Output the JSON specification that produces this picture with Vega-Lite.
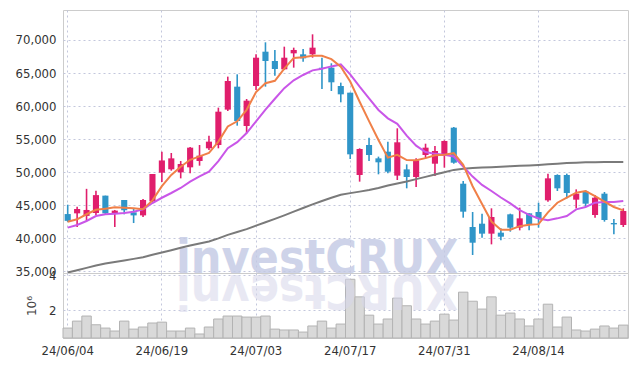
{
  "$schema": "https://vega.github.io/schema/vega-lite/v6.json",
  "background": "white",
  "padding": {"left": 12, "top": 9, "right": 8, "bottom": 5},
  "spacing": 0,
  "bounds": "flush",
  "data": {"values": [
    {"d":"24/06/04","o":43630,"h":45050,"l":42450,"c":42600,"v":970000,"m5":42470,"m20":41570,"m60":34770},
    {"d":"24/06/05","o":43740,"h":44750,"l":41680,"c":44400,"v":1370000,"m5":42830,"m20":41980,"m60":35130},
    {"d":"24/06/07","o":43350,"h":47450,"l":42580,"c":44250,"v":1660000,"m5":43600,"m20":42580,"m60":35480},
    {"d":"24/06/10","o":43790,"h":47170,"l":43480,"c":46500,"v":1160000,"m5":44270,"m20":43330,"m60":35830},
    {"d":"24/06/11","o":46420,"h":46420,"l":43590,"c":43740,"v":970000,"m5":44450,"m20":43590,"m60":36130},
    {"d":"24/06/12","o":43740,"h":44250,"l":41670,"c":44150,"v":800000,"m5":44650,"m20":43690,"m60":36370},
    {"d":"24/06/13","o":45760,"h":45760,"l":43590,"c":44190,"v":1370000,"m5":44600,"m20":43790,"m60":36600},
    {"d":"24/06/14","o":43890,"h":44400,"l":42270,"c":43430,"v":910000,"m5":44500,"m20":43990,"m60":36840},
    {"d":"24/06/17","o":43430,"h":45910,"l":43180,"c":45760,"v":1030000,"m5":44370,"m20":44350,"m60":37100},
    {"d":"24/06/18","o":45560,"h":49700,"l":45400,"c":49700,"v":1260000,"m5":45700,"m20":45300,"m60":37460},
    {"d":"24/06/19","o":49900,"h":53080,"l":48490,"c":51750,"v":1310000,"m5":47850,"m20":46100,"m60":37810},
    {"d":"24/06/20","o":50410,"h":52880,"l":50200,"c":52070,"v":800000,"m5":49550,"m20":46820,"m60":38160},
    {"d":"24/06/21","o":49950,"h":51670,"l":49040,"c":51210,"v":800000,"m5":50800,"m20":47580,"m60":38520},
    {"d":"24/06/24","o":50710,"h":53790,"l":49800,"c":53690,"v":970000,"m5":51850,"m20":48550,"m60":38860},
    {"d":"24/06/25","o":51670,"h":54090,"l":50960,"c":52480,"v":630000,"m5":52370,"m20":49330,"m60":39170},
    {"d":"24/06/26","o":53590,"h":55510,"l":53330,"c":54600,"v":1030000,"m5":52880,"m20":50050,"m60":39480},
    {"d":"24/06/27","o":54090,"h":59750,"l":53590,"c":59140,"v":1490000,"m5":54600,"m20":51650,"m60":39950},
    {"d":"24/06/28","o":59450,"h":64450,"l":59240,"c":63790,"v":1660000,"m5":56900,"m20":53600,"m60":40480},
    {"d":"24/07/01","o":62930,"h":64800,"l":57020,"c":57730,"v":1660000,"m5":57680,"m20":54520,"m60":40900},
    {"d":"24/07/02","o":56970,"h":61060,"l":55860,"c":60810,"v":1600000,"m5":59420,"m20":55900,"m60":41350},
    {"d":"24/07/03","o":63030,"h":67830,"l":62420,"c":67320,"v":1600000,"m5":62100,"m20":57670,"m60":41870},
    {"d":"24/07/04","o":68230,"h":69650,"l":62930,"c":66820,"v":1660000,"m5":63450,"m20":59440,"m60":42380},
    {"d":"24/07/05","o":66820,"h":68490,"l":64600,"c":65610,"v":910000,"m5":63820,"m20":61100,"m60":42900},
    {"d":"24/07/08","o":65560,"h":68990,"l":65450,"c":67320,"v":860000,"m5":65670,"m20":62700,"m60":43430},
    {"d":"24/07/09","o":67980,"h":68840,"l":65810,"c":68490,"v":860000,"m5":67280,"m20":63900,"m60":43990},
    {"d":"24/07/10","o":67830,"h":68640,"l":66720,"c":67220,"v":740000,"m5":67400,"m20":64700,"m60":44540},
    {"d":"24/07/11","o":67830,"h":70860,"l":67320,"c":68840,"v":1090000,"m5":67600,"m20":65400,"m60":45090},
    {"d":"24/07/12","o":65810,"h":67320,"l":62580,"c":65610,"v":1370000,"m5":67600,"m20":65650,"m60":45600},
    {"d":"24/07/15","o":65810,"h":66470,"l":62270,"c":63590,"v":970000,"m5":67100,"m20":66000,"m60":46110},
    {"d":"24/07/16","o":63030,"h":63540,"l":60560,"c":61770,"v":1200000,"m5":65950,"m20":66300,"m60":46560},
    {"d":"24/07/17","o":62020,"h":62020,"l":51970,"c":52680,"v":3770000,"m5":63700,"m20":64800,"m60":46800},
    {"d":"24/07/18","o":49550,"h":53590,"l":48540,"c":53490,"v":2760000,"m5":60650,"m20":62930,"m60":47030},
    {"d":"24/07/19","o":54090,"h":55200,"l":51670,"c":52580,"v":1710000,"m5":57700,"m20":61160,"m60":47260},
    {"d":"24/07/22","o":52070,"h":52330,"l":49650,"c":51470,"v":1200000,"m5":54850,"m20":59400,"m60":47580},
    {"d":"24/07/23","o":53080,"h":54600,"l":49800,"c":50050,"v":1490000,"m5":52180,"m20":58130,"m60":47950},
    {"d":"24/07/24","o":49450,"h":56620,"l":48790,"c":54500,"v":2690000,"m5":52600,"m20":57300,"m60":48270},
    {"d":"24/07/25","o":50400,"h":51160,"l":47530,"c":49240,"v":2250000,"m5":51800,"m20":55500,"m60":48570},
    {"d":"24/07/26","o":49240,"h":52070,"l":47730,"c":51770,"v":1490000,"m5":51770,"m20":54000,"m60":48920},
    {"d":"24/07/29","o":52580,"h":54290,"l":52070,"c":53690,"v":1200000,"m5":52100,"m20":53030,"m60":49260},
    {"d":"24/07/30","o":51260,"h":53940,"l":49390,"c":53180,"v":1370000,"m5":52550,"m20":52750,"m60":49610},
    {"d":"24/07/31","o":52530,"h":54800,"l":50660,"c":54700,"v":1770000,"m5":52600,"m20":52600,"m60":49970},
    {"d":"24/08/01","o":56720,"h":56820,"l":51260,"c":51410,"v":1430000,"m5":52850,"m20":52350,"m60":50320},
    {"d":"24/08/02","o":48230,"h":48640,"l":43080,"c":43990,"v":3030000,"m5":51080,"m20":50830,"m60":50480},
    {"d":"24/08/05","o":41670,"h":43940,"l":37430,"c":39290,"v":2510000,"m5":47850,"m20":49310,"m60":50590},
    {"d":"24/08/06","o":42170,"h":43690,"l":40050,"c":40660,"v":2060000,"m5":45150,"m20":48050,"m60":50680},
    {"d":"24/08/07","o":40660,"h":44500,"l":39040,"c":43180,"v":2760000,"m5":42500,"m20":47120,"m60":50740},
    {"d":"24/08/08","o":40810,"h":41470,"l":39650,"c":40200,"v":1710000,"m5":41240,"m20":46140,"m60":50810},
    {"d":"24/08/09","o":43590,"h":43690,"l":40960,"c":41570,"v":1830000,"m5":41250,"m20":45240,"m60":50870},
    {"d":"24/08/12","o":41570,"h":44600,"l":41160,"c":42980,"v":1490000,"m5":41800,"m20":44220,"m60":50930},
    {"d":"24/08/13","o":43740,"h":43740,"l":41160,"c":42070,"v":1090000,"m5":42000,"m20":43510,"m60":50990},
    {"d":"24/08/14","o":43940,"h":45350,"l":41570,"c":42980,"v":1490000,"m5":42100,"m20":42950,"m60":51060},
    {"d":"24/08/16","o":45710,"h":49750,"l":45510,"c":49040,"v":2340000,"m5":43890,"m20":42700,"m60":51160},
    {"d":"24/08/19","o":49550,"h":49650,"l":47120,"c":47530,"v":1030000,"m5":45350,"m20":42980,"m60":51260},
    {"d":"24/08/20","o":49550,"h":49750,"l":46010,"c":46820,"v":1600000,"m5":46110,"m20":43330,"m60":51350},
    {"d":"24/08/21","o":45810,"h":47370,"l":44500,"c":46720,"v":860000,"m5":46870,"m20":44340,"m60":51420},
    {"d":"24/08/22","o":47020,"h":47220,"l":44700,"c":45200,"v":800000,"m5":47120,"m20":44700,"m60":51460},
    {"d":"24/08/23","o":43490,"h":46520,"l":43080,"c":46110,"v":910000,"m5":46360,"m20":45350,"m60":51490},
    {"d":"24/08/26","o":46720,"h":46970,"l":42480,"c":42730,"v":1090000,"m5":45510,"m20":45450,"m60":51510},
    {"d":"24/08/27","o":42270,"h":42880,"l":40560,"c":42070,"v":970000,"m5":44700,"m20":45450,"m60":51515},
    {"d":"24/08/28","o":41970,"h":44500,"l":41670,"c":44090,"v":1140000,"m5":44190,"m20":45610,"m60":51515}
  ]},
  "config": {
    "view": {"stroke": "#cccccc"},
    "axis": {
      "labelFont": "DejaVu Sans Condensed",
      "labelFontSize": 13,
      "labelColor": "#333333",
      "labelOverlap": false,
      "gridColor": "#c3c7dc",
      "gridDash": [2, 3],
      "gridWidth": 1,
      "domain": false,
      "ticks": false
    }
  },
  "vconcat": [
    {
      "width": 565,
      "height": 263,
      "encoding": {
        "x": {
          "field": "d", "type": "ordinal",
          "scale": {"type": "band", "paddingInner": 0, "paddingOuter": 0, "domain": ["24/06/04","24/06/05","24/06/07","24/06/10","24/06/11","24/06/12","24/06/13","24/06/14","24/06/17","24/06/18","24/06/19","24/06/20","24/06/21","24/06/24","24/06/25","24/06/26","24/06/27","24/06/28","24/07/01","24/07/02","24/07/03","24/07/04","24/07/05","24/07/08","24/07/09","24/07/10","24/07/11","24/07/12","24/07/15","24/07/16","24/07/17","24/07/18","24/07/19","24/07/22","24/07/23","24/07/24","24/07/25","24/07/26","24/07/29","24/07/30","24/07/31","24/08/01","24/08/02","24/08/05","24/08/06","24/08/07","24/08/08","24/08/09","24/08/12","24/08/13","24/08/14","24/08/16","24/08/19","24/08/20","24/08/21","24/08/22","24/08/23","24/08/26","24/08/27","24/08/28"]},
          "axis": {"values": ["24/06/04","24/06/19","24/07/03","24/07/17","24/07/31","24/08/14"], "labels": false, "title": null, "grid": true, "bandPosition": 0.5}
        }
      },
      "layer": [
        {
          "data": {"values": [{"label": "investCRUX", "d": "24/07/11"}]},
          "mark": {"type": "text", "font": "DejaVu Sans Condensed", "fontWeight": "bold", "fontSize": 48, "align": "center", "baseline": "alphabetic", "fill": "#c3c9e4", "opacity": 0.8},
          "encoding": {
            "x": {"field": "d", "type": "ordinal", "bandPosition": 1},
            "y": {"datum": 34550, "type": "quantitative", "scale": {"domain": [34700, 74545], "nice": false, "zero": false},
              "axis": {"values": [35000,40000,45000,50000,55000,60000,65000,70000], "tickCount": 20, "format": ",.0f", "title": null, "labelPadding": 7, "minExtent": 50, "grid": true, "labelOverlap": false}},
            "text": {"field": "label"}
          }
        },
        {
          "mark": {"type": "rule", "strokeWidth": 1.6},
          "encoding": {
            "y": {"field": "l", "type": "quantitative"},
            "y2": {"field": "h"},
            "color": {"condition": {"test": "datum.c >= datum.o", "value": "#e01e6c"}, "value": "#2f95c8"}
          }
        },
        {
          "mark": {"type": "bar", "width": {"band": 0.65}},
          "encoding": {
            "y": {"field": "o", "type": "quantitative"},
            "y2": {"field": "c"},
            "color": {"condition": {"test": "datum.c >= datum.o", "value": "#e01e6c"}, "value": "#2f95c8"}
          }
        },
        {
          "mark": {"type": "line", "color": "#7a7a7a", "strokeWidth": 2},
          "encoding": {"y": {"field": "m60", "type": "quantitative"}}
        },
        {
          "mark": {"type": "line", "color": "#c956e8", "strokeWidth": 2},
          "encoding": {"y": {"field": "m20", "type": "quantitative"}}
        },
        {
          "mark": {"type": "line", "color": "#f08048", "strokeWidth": 2},
          "encoding": {"y": {"field": "m5", "type": "quantitative"}}
        }
      ]
    },
    {
      "width": 565,
      "height": 65,
      "encoding": {
        "x": {
          "field": "d", "type": "ordinal",
          "scale": {"type": "band", "paddingInner": 0, "paddingOuter": 0, "domain": ["24/06/04","24/06/05","24/06/07","24/06/10","24/06/11","24/06/12","24/06/13","24/06/14","24/06/17","24/06/18","24/06/19","24/06/20","24/06/21","24/06/24","24/06/25","24/06/26","24/06/27","24/06/28","24/07/01","24/07/02","24/07/03","24/07/04","24/07/05","24/07/08","24/07/09","24/07/10","24/07/11","24/07/12","24/07/15","24/07/16","24/07/17","24/07/18","24/07/19","24/07/22","24/07/23","24/07/24","24/07/25","24/07/26","24/07/29","24/07/30","24/07/31","24/08/01","24/08/02","24/08/05","24/08/06","24/08/07","24/08/08","24/08/09","24/08/12","24/08/13","24/08/14","24/08/16","24/08/19","24/08/20","24/08/21","24/08/22","24/08/23","24/08/26","24/08/27","24/08/28"]},
          "axis": {"values": ["24/06/04","24/06/19","24/07/03","24/07/17","24/07/31","24/08/14"], "title": null, "grid": true, "bandPosition": 0.5, "labelPadding": 6, "labelAngle": 0}
        }
      },
      "layer": [
        {
          "mark": {"type": "bar", "width": {"band": 1}, "fill": "#d9d9d9", "stroke": "#b3b3b3", "strokeWidth": 1},
          "encoding": {
            "y": {"field": "v", "type": "quantitative", "scale": {"domain": [400000, 4130000], "nice": false, "zero": false},
              "axis": {"values": [2000000, 4000000], "tickCount": 10, "labelExpr": "datum.value / 1000000", "title": "10⁶", "titleFont": "DejaVu Sans", "titleFontSize": 12, "titleFontWeight": "normal", "titleColor": "#444444", "titlePadding": 5, "labelPadding": 7, "minExtent": 20, "grid": true}},
            "y2": {"datum": 400000}
          }
        },
        {
          "data": {"values": [{"label": "XURCtsevni", "d": "24/07/11"}]},
          "mark": {"type": "text", "font": "DejaVu Sans Condensed", "fontWeight": "bold", "fontSize": 48, "align": "center", "baseline": "alphabetic", "angle": 180, "fill": "#d6d6ea", "opacity": 0.55},
          "encoding": {
            "x": {"field": "d", "type": "ordinal", "bandPosition": 1},
            "y": {"datum": 4000000, "type": "quantitative"},
            "text": {"field": "label"}
          }
        }
      ]
    }
  ]
}
